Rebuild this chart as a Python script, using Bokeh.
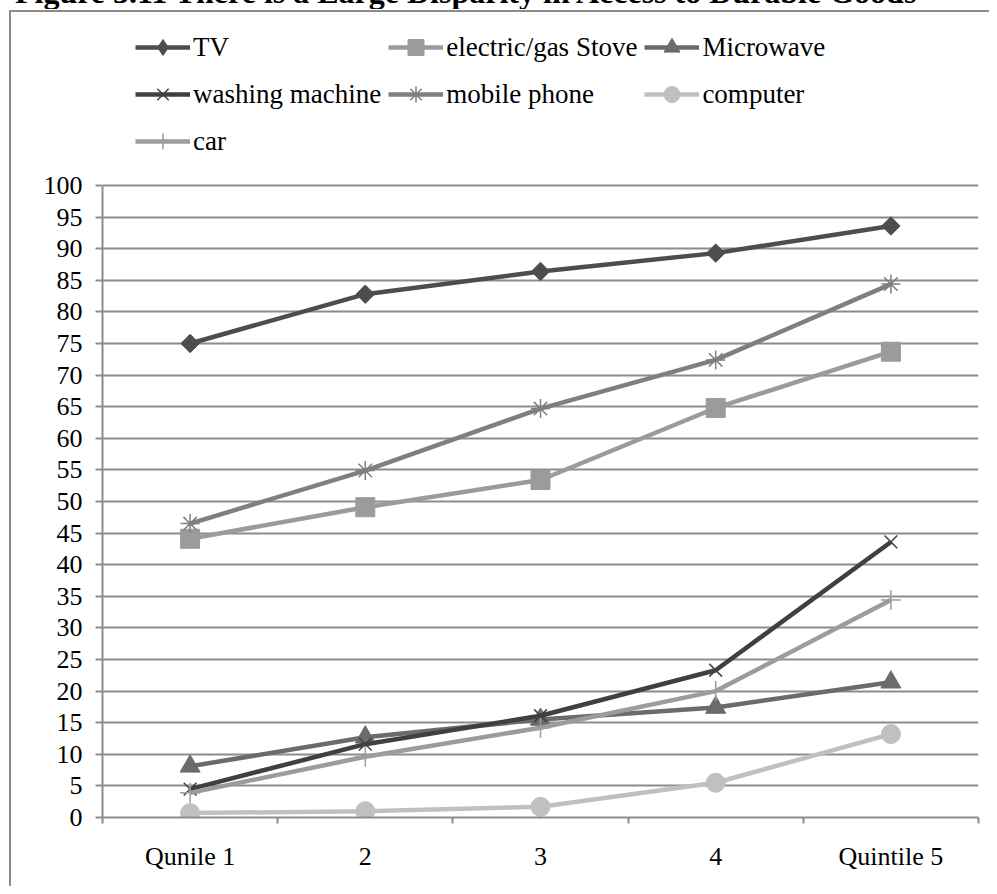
from bokeh.plotting import figure
from bokeh.layouts import column
from bokeh.models import (Range1d, FixedTicker, Legend, LegendItem, Div,
                          InlineStyleSheet)
from bokeh.embed import file_html
from bokeh.resources import INLINE

# ---------------- data ----------------
categories = ["Qunile 1", "2", "3", "4", "Quintile 5"]
tv = [75.0, 82.8, 86.4, 89.3, 93.6]
stove = [44.1, 49.1, 53.4, 64.8, 73.7]
microwave = [8.1, 12.7, 15.5, 17.4, 21.4]
washing = [4.5, 11.6, 16.1, 23.3, 43.6]
mobile = [46.5, 54.9, 64.7, 72.4, 84.4]
computer = [0.7, 1.0, 1.7, 5.5, 13.2]
car = [3.9, 9.6, 14.2, 20.0, 34.4]
y_ticks = list(range(0, 101, 5))
title_text = "Figure 3.11 There is a Large Disparity in Access to Durable Goods"

FONT = "Liberation Serif"
GRID = "#8c8c8c"

# ---------------- layout (pixels) ----------------
W = 989
TOP_H = 9            # strip that holds the (cut-off) title
MAIN_H = 886 - TOP_H
AX_LEFT, AX_RIGHT = 102, 978
Y0_PX, Y100_PX = 817 - TOP_H, 185 - TOP_H
y_top = 100.0 * Y0_PX / (Y0_PX - Y100_PX)   # frame reaches the top of the canvas

# ---------------- title strip (cut off at the top, as in the source) ----------------
title_div = Div(
    text=('<div style="position: relative; top: -24px; left: 15px; white-space: nowrap; '
          'font-family: \'Liberation Serif\'; font-weight: bold; font-size: 32px; '
          'line-height: 32px; color: black;">' + title_text + '</div>'),
    width=W, height=TOP_H, styles={"overflow": "hidden", "margin": "0", "padding": "0"})

# ---------------- main chart ----------------
xs = [i + 0.5 for i in range(len(categories))]
bounds = list(range(len(categories) + 1))

p = figure(width=W, height=MAIN_H, output_backend="svg", toolbar_location=None,
           title_location=None,
           x_range=Range1d(0, len(categories)), y_range=Range1d(0, y_top),
           min_border_left=AX_LEFT, min_border_right=W - AX_RIGHT,
           min_border_top=0, min_border_bottom=MAIN_H - Y0_PX)
p.outline_line_color = None
p.background_fill_color = "white"
p.border_fill_color = "white"

p.xgrid.visible = False
p.ygrid.ticker = FixedTicker(ticks=y_ticks)
p.ygrid.grid_line_color = GRID
p.ygrid.grid_line_width = 2

xa = p.xaxis[0]
xa.ticker = FixedTicker(ticks=xs, minor_ticks=bounds)
xa.major_label_overrides = {x: c for x, c in zip(xs, categories)}
xa.major_tick_out = 0
xa.major_tick_in = 0
xa.minor_tick_out = 6
xa.minor_tick_in = 0
xa.minor_tick_line_color = GRID
xa.minor_tick_line_width = 2
xa.axis_line_color = GRID
xa.axis_line_width = 2
xa.major_label_text_font = FONT
xa.major_label_text_font_size = "26px"
xa.major_label_text_color = "black"
xa.major_label_standoff = 18

ya = p.yaxis[0]
ya.ticker = FixedTicker(ticks=y_ticks, minor_ticks=[])
ya.bounds = (0, 100)
ya.major_tick_out = 7
ya.major_tick_in = 0
ya.major_tick_line_color = GRID
ya.major_tick_line_width = 2
ya.axis_line_color = GRID
ya.axis_line_width = 2
ya.major_label_text_font = FONT
ya.major_label_text_font_size = "26px"
ya.major_label_text_color = "black"
ya.major_label_standoff = 13

# name, values, colour, marker, size, angle, marker line width, legend marker
series = [
    ("TV", tv, "#4d4d4d", "square", 13, 0.785398, 0, "diamond"),
    ("electric/gas Stove", stove, "#9b9b9b", "square", 19, 0, 0, None),
    ("Microwave", microwave, "#6b6b6b", "triangle", 20, 0, 0, None),
    ("washing machine", washing, "#404040", "x", 18, 0, 1.5, None),
    ("mobile phone", mobile, "#7f7f7f", "asterisk", 19, 0, 1.5, None),
    ("computer", computer, "#c0c0c0", "circle", 19, 0, 0, None),
    ("car", car, "#9c9c9c", "cross", 20, 0, 1.5, None),
]

items = []
for name, vals, col, mk, sz, ang, lw, leg_mk in series:
    lr = p.line(xs, vals, line_color=col, line_width=4.5)
    if lw > 0:
        style = dict(line_color=col, line_width=lw, fill_color=None)
    else:
        style = dict(line_color=col, fill_color=col, line_width=1)
    mr = p.scatter(xs, vals, marker=mk, size=sz, angle=ang, **style)
    if leg_mk is not None:
        # key-only glyph (not plotted: NaN position) so the key shows a diamond
        mr = p.scatter(x=[float("nan")], y=[float("nan")], marker=leg_mk,
                       size=sz, **style)
    items.append(LegendItem(label=name, renderers=[lr, mr]))

legend = Legend(items=items, location=(33, 656), orientation="horizontal", ncols=3,
                label_text_font=FONT, label_text_font_size="27px",
                label_text_color="black", label_standoff=3,
                glyph_width=55, glyph_height=40, spacing=7,
                padding=0, margin=0, border_line_color=None,
                background_fill_alpha=0)
p.add_layout(legend, "center")

# thin grey frame around the whole exhibit (left and top edges visible)
frame_css = InlineStyleSheet(css="""
:host { position: relative; }
:host::after {
  content: ""; position: absolute; left: 9px; top: 10px; right: 0; bottom: 0;
  border-left: 2px solid #8c8c8c; border-top: 2px solid #8c8c8c;
  pointer-events: none; z-index: 100;
}
""")

layout = column(title_div, p, spacing=0, stylesheets=[frame_css])

open("out.html", "w").write(file_html(layout, INLINE))
